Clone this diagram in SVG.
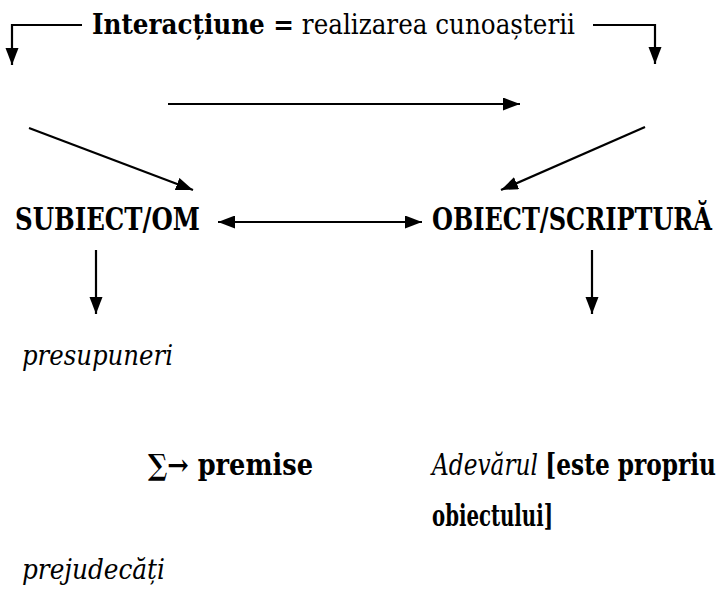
<svg xmlns="http://www.w3.org/2000/svg" width="720" height="589" viewBox="0 0 720 589">
<style>
text{font-family:"DejaVu Serif Condensed","DejaVu Serif","Liberation Serif",serif;fill:#000}
.b{font-weight:bold}
.i{font-style:italic}
.c{stroke:#000;stroke-width:2.2;fill:none}
</style>
<defs>
<marker id="ah" markerUnits="userSpaceOnUse" markerWidth="20" markerHeight="14" refX="17" refY="6.5" orient="auto">
<path d="M0,0 L17,6.5 L0,13 Z" fill="#000"/>
</marker>
<marker id="as" markerUnits="userSpaceOnUse" markerWidth="20" markerHeight="14" refX="0" refY="6.5" orient="auto">
<path d="M17,0 L0,6.5 L17,13 Z" fill="#000"/>
</marker>
</defs>
<g id="title"><text x="92" y="34" font-size="27" textLength="483" lengthAdjust="spacingAndGlyphs"><tspan class="b">Interacțiune =</tspan> realizarea cunoașterii</text></g>
<g id="subiect"><text class="b" x="15" y="230" font-size="31" textLength="185" lengthAdjust="spacingAndGlyphs">SUBIECT/OM</text></g>
<g id="obiect"><text class="b" x="432" y="230" font-size="31" textLength="280" lengthAdjust="spacingAndGlyphs">OBIECT/SCRIPTURĂ</text></g>
<g id="presupuneri"><text class="i" x="22" y="365" font-size="27" textLength="151" lengthAdjust="spacingAndGlyphs">presupuneri</text></g>
<g id="premise"><text class="b" x="148" y="475" font-size="29" textLength="165" lengthAdjust="spacingAndGlyphs">∑→ premise</text></g>
<g id="adevarul"><text x="432" y="475" font-size="29" textLength="284" lengthAdjust="spacingAndGlyphs"><tspan class="i">Adevărul</tspan> <tspan class="b">[este propriu</tspan></text><text class="b" x="432" y="526" font-size="29" textLength="121" lengthAdjust="spacingAndGlyphs">obiectului]</text></g>
<g id="prejudecati"><text class="i" x="22" y="579" font-size="27" textLength="143" lengthAdjust="spacingAndGlyphs">prejudecăți</text></g>
<g id="connectors">
<path class="c" d="M82,25 H12 V65" marker-end="url(#ah)"/>
<path class="c" d="M593,25 H655 V64" marker-end="url(#ah)"/>
<path class="c" d="M168,104 H520" marker-end="url(#ah)"/>
<path class="c" d="M29,128 L193,190" marker-end="url(#ah)"/>
<path class="c" d="M645,127 L501,190" marker-end="url(#ah)"/>
<path class="c" d="M218,222 H422" marker-start="url(#as)" marker-end="url(#ah)"/>
<path class="c" d="M96,250 V314" marker-end="url(#ah)"/>
<path class="c" d="M592,250 V314" marker-end="url(#ah)"/>
</g>
</svg>
